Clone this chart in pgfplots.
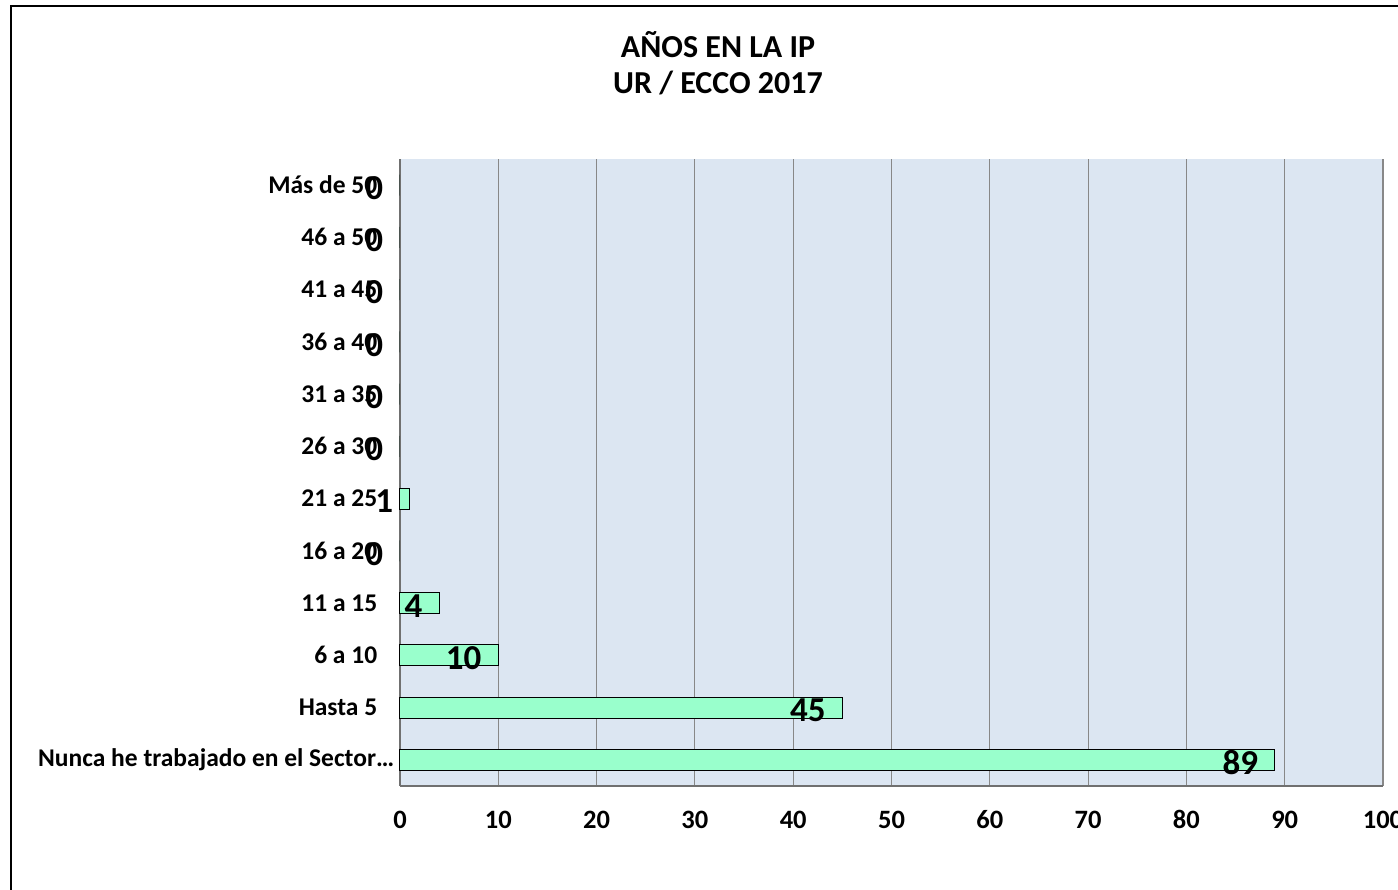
\documentclass[border=0pt]{standalone}
\usepackage{pgfplots}
\pgfplotsset{compat=1.18}
\usepackage{fontspec}
\setmainfont{Carlito}
\definecolor{plotbg}{HTML}{DCE6F2}
\definecolor{barfill}{HTML}{99FFCC}
\definecolor{gridgray}{HTML}{888888}
\definecolor{axisgray}{HTML}{707070}

\begin{document}
\begin{tikzpicture}[x=1pt,y=1pt]
\useasboundingbox (0,0) rectangle (1398,890);
% chart frame
\begin{scope}
  \clip (0,0) rectangle (1398,890);
  \draw[line width=2.6pt] (11,-20) -- (11,884) -- (1430,884);
\end{scope}
% title
\node[font=\fontsize{32}{36}\selectfont\bfseries, align=center] at (718,827)
  {AÑOS EN LA IP\\UR / ECCO 2017};
\begin{axis}[
  at={(400pt,104pt)}, anchor=south west,
  scale only axis, width=983pt, height=627pt,
  xmin=0, xmax=100, ymin=-0.5, ymax=11.5,
  xbar, bar width=21pt,
  axis background/.style={fill=plotbg},
  xmajorgrids, grid style={gridgray, line width=1.1pt},
  axis x line*=bottom, axis y line*=left,
  axis line style={axisgray, line width=1.5pt},
  tick style={draw=none},
  xtick={0,10,...,100},
  ytick={0,...,11},
  yticklabels={Nunca he trabajado en el Sector…\hspace*{-17pt},Hasta 5,6 a 10,11 a 15,16 a 20,21 a 25,26 a 30,31 a 35,36 a 40,41 a 45,46 a 50,Más de 50},
  /pgf/number format/assume math mode=true,
  xticklabel style={font=\fontsize{26.5}{30}\selectfont\bfseries, anchor=base, yshift=-43pt},
  yticklabel style={font=\fontsize{25.5}{30}\selectfont\bfseries, anchor=east, xshift=-15pt},
  nodes near coords,
  nodes near coords style={font=\fontsize{35}{40}\selectfont\bfseries, anchor=east, xshift=-13pt, yshift=-3pt, text=black},
  clip=false,
]
\addplot[fill=barfill, draw=black, line width=1pt] coordinates {
  (89,0) (45,1) (10,2) (4,3) (0,4) (1,5) (0,6) (0,7) (0,8) (0,9) (0,10) (0,11)
};
\end{axis}
\end{tikzpicture}
\end{document}
